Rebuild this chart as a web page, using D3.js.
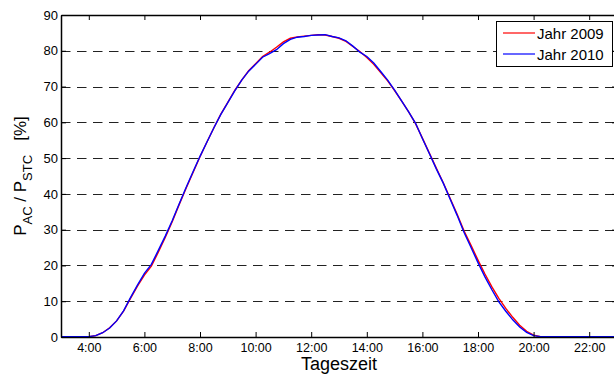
<!DOCTYPE html>
<html lang="de">
<head>
<meta charset="utf-8">
<title>PAC / PSTC</title>
<script src="https://cdn.jsdelivr.net/npm/d3@7"></script>
<style>
  body { margin: 0; background: #fff; }
  svg { font-family: "Liberation Sans", Arial, sans-serif; }
  .axis path, .axis line { stroke: #000; }
  .axis text { fill: #000; font-size: 12.5px; }
</style>
</head>
<body>
<script>
// time of day in hours
var times = [3, 4, 4.25, 4.5, 4.75, 5, 5.25, 5.5, 5.75, 6, 6.25, 6.5, 6.75, 7, 7.25, 7.5, 7.75,
  8, 8.25, 8.5, 8.75, 9, 9.25, 9.5, 9.75, 10, 10.25, 10.5, 10.75, 11, 11.25, 11.5, 11.75,
  12, 12.25, 12.5, 12.75, 13, 13.25, 13.5, 13.75, 14, 14.25, 14.5, 14.75, 15, 15.25, 15.5, 15.75,
  16, 16.25, 16.5, 16.75, 17, 17.25, 17.5, 17.75, 18, 18.25, 18.5, 18.75, 19, 19.25, 19.5, 19.75,
  20, 20.25, 23];

var y2009 = [0.1, 0.1, 0.4, 1.2, 2.6, 4.5, 7.2, 10.8, 14.2, 17.3, 19.8, 23.7, 27.8, 32.2, 37.0, 41.6, 46.0,
  50.4, 54.5, 58.5, 62.3, 65.6, 68.9, 71.8, 74.4, 76.4, 78.4, 79.6, 81.0, 82.5, 83.5, 83.9, 84.1,
  84.3, 84.5, 84.4, 84.0, 83.5, 82.6, 81.2, 79.8, 78.1, 76.2, 73.9, 71.6, 68.9, 66.0, 63.0, 59.7,
  55.6, 51.4, 47.2, 43.1, 38.7, 34.3, 29.6, 25.6, 21.5, 17.6, 14.0, 10.8, 8.0, 5.5, 3.3, 1.6,
  0.5, 0.1, 0.1];

var y2010 = [0.1, 0.1, 0.4, 1.2, 2.5, 4.5, 7.3, 11.0, 14.5, 17.8, 20.3, 24.2, 28.2, 32.5, 37.2, 41.8, 46.2,
  50.5, 54.5, 58.5, 62.2, 65.5, 68.8, 71.8, 74.3, 76.2, 78.2, 79.2, 80.3, 82.0, 83.2, 83.8, 84.0,
  84.3, 84.4, 84.5, 84.0, 83.6, 82.8, 81.3, 79.6, 78.4, 76.6, 74.2, 71.8, 69.0, 66.0, 63.0, 59.8,
  55.5, 51.3, 47.0, 43.0, 38.5, 34.0, 29.2, 25.0, 20.8, 16.8, 13.2, 9.8, 7.2, 4.8, 2.8, 1.3,
  0.4, 0.1, 0.1];

var xTicks = [4, 6, 8, 10, 12, 14, 16, 18, 20, 22];
var yTicks = [0, 10, 20, 30, 40, 50, 60, 70, 80, 90];
var seriesNames = ["Jahr 2009", "Jahr 2010"];
var seriesColors = ["#ff0000", "#0000ff"];

var width = 614, height = 374;
var plotL = 61, plotR = 617, plotT = 15, plotB = 337;

var svg = d3.select("body").append("svg").attr("width", width).attr("height", height);

var x = d3.scaleLinear().domain([3, 23]).range([plotL, plotR]);
var y = d3.scaleLinear().domain([0, 90]).range([plotB, plotT]);

// dashed grid
svg.append("g").selectAll("line")
  .data(yTicks.filter(function(d) { return d > 0 && d < 90; }))
  .enter().append("line")
  .attr("x1", plotL).attr("x2", plotR)
  .attr("y1", function(d) { return Math.round(y(d)) + 0.5; })
  .attr("y2", function(d) { return Math.round(y(d)) + 0.5; })
  .attr("stroke", "#222").attr("stroke-width", 1)
  .attr("stroke-dasharray", "9.5,6.5");

// data lines
svg.append("clipPath").attr("id", "clip").append("rect")
  .attr("x", plotL).attr("y", plotT - 2).attr("width", plotR - plotL).attr("height", plotB - plotT + 2);

var series = [y2009, y2010];
series.forEach(function(vals, i) {
  var line = d3.line()
    .x(function(d, j) { return x(times[j]); })
    .y(function(d) { return y(d); });
  svg.append("path")
    .datum(vals)
    .attr("clip-path", "url(#clip)")
    .attr("fill", "none")
    .attr("stroke", seriesColors[i])
    .attr("stroke-width", 1.4)
    .attr("d", line);
});

// axes (MATLAB style, ticks inside)
svg.append("g").attr("class", "axis")
  .attr("transform", "translate(0," + plotB + ")")
  .call(d3.axisBottom(x).tickValues(xTicks).tickFormat(function(d) { return d + ":00"; })
    .tickSizeInner(-5).tickSizeOuter(0).tickPadding(6))
  .call(function(g) { g.select(".domain").attr("stroke-width", 1.5); });

svg.append("g").attr("class", "axis")
  .attr("transform", "translate(0," + plotT + ")")
  .call(d3.axisTop(x).tickValues(xTicks).tickFormat("").tickSizeInner(-5).tickSizeOuter(0))
  .call(function(g) { g.select(".domain").attr("stroke-width", 1.5); });

svg.append("g").attr("class", "axis")
  .attr("transform", "translate(" + plotL + ",0)")
  .call(d3.axisLeft(y).tickValues(yTicks).tickSizeInner(-5).tickSizeOuter(0).tickPadding(3))
  .call(function(g) { g.select(".domain").attr("stroke-width", 1.5); })
  .selectAll("text").style("font-size", "13px");

svg.append("g").attr("class", "axis")
  .attr("transform", "translate(" + plotR + ",0)")
  .call(d3.axisRight(y).tickValues(yTicks).tickFormat("").tickSizeInner(-5).tickSizeOuter(0));

// axis labels
svg.append("text")
  .attr("x", (plotL + plotR) / 2).attr("y", 370)
  .attr("text-anchor", "middle")
  .style("font-size", "18px")
  .text("Tageszeit");

var yl = svg.append("text")
  .attr("transform", "translate(25.5,176) rotate(-90)")
  .attr("text-anchor", "middle")
  .attr("xml:space", "preserve")
  .style("font-size", "17px");
yl.append("tspan").text("P");
yl.append("tspan").attr("dy", 6).style("font-size", "13px").text("AC");
yl.append("tspan").attr("dy", -6).text(" / P");
yl.append("tspan").attr("dy", 6).style("font-size", "13px").text("STC");
yl.append("tspan").attr("dy", -6).text("   [%]");

// legend
var lg = svg.append("g");
lg.append("rect")
  .attr("x", 496.5).attr("y", 21.5).attr("width", 116).attr("height", 45)
  .attr("fill", "#fff").attr("stroke", "#000").attr("stroke-width", 1);
seriesNames.forEach(function(name, i) {
  var yy = 33 + i * 21;
  lg.append("line")
    .attr("x1", 503).attr("x2", 535).attr("y1", yy).attr("y2", yy)
    .attr("stroke", seriesColors[i]).attr("stroke-width", 1.2);
  lg.append("text")
    .attr("x", 537).attr("y", yy + 5.5)
    .style("font-size", "15px")
    .text(name);
});
</script>
</body>
</html>
